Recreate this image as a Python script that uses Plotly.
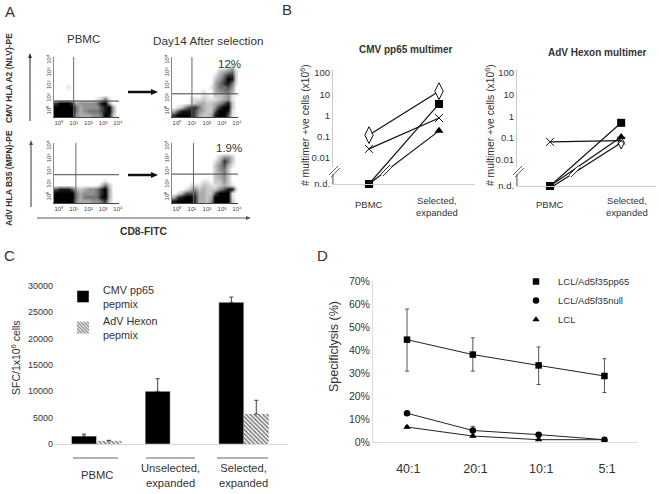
import plotly.graph_objects as go

W, H = 659, 494
FONT = "Liberation Sans"
INK = "#333333"

# ---------- Panel A: estimated density grids (0-9), top row first
FLOW_COLS = 16
flow_cmv_pbmc = ["0000000000000000", "0000000000000000", "0000000000000000", "0000000000000000",
                 "0000000000000000", "0000000000000000", "0000000000000000", "0001000000000000",
                 "0000000000000000", "0000000000000000", "0000000000125100", "7999734444589300",
                 "9999953444468930", "9999953455568930", "9999943334459820"]
flow_cmv_sel = ["0000000000000000", "0000000000000000", "0000000000000130", "0000000000023451",
                "0000000000135771", "0000000000246981", "0000000000357851", "0000000001355640",
                "0000000100345530", "0000000110223410", "0000111211123410", "0000123322346820",
                "0125775322479920", "3688864322699810", "7999863223899610"]
flow_adv_pbmc = ["0000000000000000", "0000000000000000", "0000000000000000", "0000000000000000",
                 "0000000000000000", "0000000000000000", "0000000000000000", "0000000000000000",
                 "0000000000000000", "0000000000001000", "0000000000025200", "6888632344579300",
                 "9999953444579300", "9999953555589300", "9999943334457200"]
flow_adv_sel = ["0000000000000000", "0000000000000000", "0000000000000000", "0000000000024420",
                "0000000000137520", "0000000000246310", "0000000000245200", "0000000000235200",
                "0000000000234200", "0000000110224200", "0000111221123210", "0001342322246881",
                "0136663322699910", "3789973323999910", "8999973324999920"]
flow_ticks = [0, 1, 2, 3, 4]
flow_ticktext = ["10⁰", "10¹", "10²", "10³", "10⁴"]

# ---------- Panel B
b_cats = ["PBMC", "Selected,<br>expanded"]
ND = 10 ** -3.22
b_ticks = [ND, 0.01, 0.1, 1, 10, 100]
b_ticktext = ["n.d.", "0.01", "0.1", "1", "10", "100"]
cmv_diamond = [0.12, 14]
cmv_cross = [0.027, 0.76]
cmv_square = [ND, 3.5]
cmv_triangle = [ND, 0.19]
adv_cross = [0.066, 0.075]
adv_square = [ND, 0.5]
adv_triangle = [ND, 0.11]
adv_diamond = [ND * 0.8, 0.06]

# ---------- Panel C
c_cats = ["PBMC", "Unselected,<br>expanded", "Selected,<br>expanded"]
c_cmv = [1500, 10000, 26900]
c_cmv_err = [380, 2400, 1000]
c_adv = [600, None, 5700]
c_adv_err = [100, None, 2600]
c_ticks = [0, 5000, 10000, 15000, 20000, 25000, 30000]

# ---------- Panel D
d_cats = ["40:1", "20:1", "10:1", "5:1"]
d_pp65 = [0.445, 0.38, 0.333, 0.287]
d_pp65_err_up = [0.133, 0.073, 0.08, 0.075]
d_pp65_err_dn = [0.137, 0.072, 0.083, 0.072]
d_null = [0.125, 0.05, 0.032, 0.01]
d_null_err = [0.006, 0.018, 0.005, 0.005]
d_lcl = [0.065, 0.026, 0.01, 0.01]
d_lcl_err = [0.005, 0.005, 0.003, 0.003]
d_ticks = [0, .1, .2, .3, .4, .5, .6, .7]

def X(p): return p / W
def Y(p): return 1 - p / H

fig = go.Figure()
layout = dict(width=W, height=H, autosize=False, margin=dict(l=0, r=0, t=0, b=0, pad=0),
              paper_bgcolor="white", plot_bgcolor="white", showlegend=True,
              font=dict(family=FONT, color=INK), barmode="overlay")
shapes, annots = [], []
n_ax = [0]

def axes(l, r, t, b, xaxis, yaxis):
    n_ax[0] += 1
    k = n_ax[0]
    sx = "" if k == 1 else str(k)
    base = dict(showgrid=False, zeroline=False, fixedrange=True, automargin=False)
    layout["xaxis" + sx] = dict(base, domain=[X(l), X(r)], anchor="y" + sx, **xaxis)
    layout["yaxis" + sx] = dict(base, domain=[Y(b), Y(t)], anchor="x" + sx, **yaxis)
    return "x" + sx, "y" + sx

def text(x, y, s, size=10, angle=0, anchor="center", bold=False, color=INK):
    annots.append(dict(x=X(x), y=Y(y), xref="paper", yref="paper", text=f"<b>{s}</b>" if bold else s,
                       showarrow=False, font=dict(size=size, color=color, family=FONT), textangle=angle,
                       xanchor=anchor, yanchor="middle"))

def pline(x0, y0, x1, y1, color="#000", width=1):
    shapes.append(dict(type="line", xref="paper", yref="paper", x0=X(x0), y0=Y(y0), x1=X(x1), y1=Y(y1),
                       line=dict(color=color, width=width)))

def arrow(x0, y0, x1, y1, color="#222", width=1, head_len=6, head_half=2.5):
    # straight horizontal or vertical arrow, pixel coordinates: tail to tip
    ux = (x1 > x0) - (x1 < x0)
    uy = (y1 > y0) - (y1 < y0)
    bx, by = x1 - ux * head_len, y1 - uy * head_len
    pline(x0, y0, bx, by, color, width)
    px, py = -uy * head_half, ux * head_half
    path = f"M{X(x1)},{Y(y1)} L{X(bx + px)},{Y(by + py)} L{X(bx - px)},{Y(by - py)} Z"
    shapes.append(dict(type="path", xref="paper", yref="paper", path=path, fillcolor=color, line=dict(width=0)))

# ---------- Panel A
def flow(grid, l, r, t, b, hgate, vgate):
    xr = [-0.33, 4.07]
    yr = [-0.47, 4.24]
    xa, ya = axes(l, r, t, b,
                  dict(range=xr, tickvals=flow_ticks, ticktext=flow_ticktext, tickfont=dict(size=6, color="#444"),
                       showline=True, linecolor="#444", linewidth=1, ticks="", ticklen=0),
                  dict(range=yr, tickvals=flow_ticks, ticktext=flow_ticktext, tickfont=dict(size=6, color="#444"),
                       tickangle=-90, showline=True, linecolor="#888", linewidth=1, ticks="", ticklen=0))
    rows = [[int(c) for c in row] for row in reversed(grid)]
    fig.add_trace(go.Heatmap(z=rows, x0=xr[0] + (xr[1] - xr[0]) / FLOW_COLS / 2, dx=(xr[1] - xr[0]) / FLOW_COLS,
                             y0=yr[0] + (yr[1] - yr[0]) / len(rows) / 2, dy=(yr[1] - yr[0]) / len(rows),
                             zmin=0, zmax=9, zsmooth="best", showscale=False, hoverinfo="skip",
                             colorscale=[[0, "white"], [0.1, "#e4e4e4"], [0.5, "#848484"], [0.8, "#2c2c2c"], [1, "black"]],
                             xaxis=xa, yaxis=ya))
    fig.add_trace(go.Scatter(x=xr, y=[hgate, hgate], mode="lines", line=dict(color="#444", width=1),
                             showlegend=False, hoverinfo="skip", xaxis=xa, yaxis=ya))
    fig.add_trace(go.Scatter(x=[vgate, vgate], y=yr, mode="lines", line=dict(color="#666", width=1),
                             showlegend=False, hoverinfo="skip", xaxis=xa, yaxis=ya))

flow(flow_cmv_pbmc, 54, 119, 57, 117, 0.78, 1.0)
flow(flow_cmv_sel, 172, 238, 57, 117, 1.35, 1.0)
flow(flow_adv_pbmc, 54, 119, 143, 203, 1.75, 1.15)
flow(flow_adv_sel, 172, 238, 143, 203, 1.8, 1.1)

text(10, 11, "A", 15)
text(83, 39, "PBMC", 11.5)
text(208, 41, "Day14 After selection", 11.7)
text(229, 64, "12%", 11.5)
text(229, 148, "1.9%", 11.5)
text(9, 78, "CMV HLA A2 (NLV)-PE", 8.5, -90, bold=True)
text(9, 178, "AdV HLA B35 (MPN)-PE", 8.5, -90, bold=True)
text(143, 231, "CD8-FITC", 10.3, bold=True)
arrow(30, 121, 30, 53, "#222", 1, 5, 1.8)
arrow(31, 207, 31, 140, "#555", 1.2, 5, 2)
arrow(37, 218, 251, 218, "#555", 1, 5, 2)
arrow(128, 92, 158, 92, "#111", 2.5, 7, 3)
arrow(128, 175, 158, 175, "#111", 2.5, 7, 3)

# ---------- Panel B
def multimer(l, r, nd_y, top, x_range, series):
    scale = (nd_y - 73) / 5.22
    top_log = 2 + (73 - top) / scale
    xa, ya = axes(l, r, top, nd_y,
                  dict(range=x_range, tickvals=[], showline=True, linecolor="#d0d0d0", linewidth=1),
                  dict(type="log", range=[-3.22, top_log], tickvals=b_ticks, ticktext=b_ticktext,
                       tickfont=dict(size=9.5, color=INK), showline=True, linecolor="#c8c8c8", linewidth=1,
                       ticks="", ticklen=0))
    xs = [0, 1]
    for vals, sym, size, fill, lw in series:
        fig.add_trace(go.Scatter(x=xs, y=vals, mode="lines+markers", cliponaxis=False, showlegend=False,
                                 line=dict(color="#111", width=1.2),
                                 marker=dict(symbol=sym, size=size, color=fill, line=dict(color="#111", width=lw)),
                                 hoverinfo="skip", xaxis=xa, yaxis=ya))
    return xa, ya

multimer(333, 475, 184, 70, [-0.514, 1.514], [
    (cmv_diamond, "diamond-tall", 12, "white", 1),
    (cmv_cross, "x-thin-open", 8, "#111", 1),
    (cmv_triangle, "triangle-up", 8, "black", 0),
    (cmv_square, "square", 8, "black", 0),
])
multimer(517, 656, 186, 70, [-0.465, 1.49], [
    (adv_diamond, "diamond-tall", 9, "white", 1),
    (adv_cross, "x-thin-open", 8, "#111", 1),
    (adv_square, "square", 8, "black", 0),
    (adv_triangle, "triangle-up", 8, "black", 0),
])

text(287, 10, "B", 15)
text(405, 50, "CMV pp65 multimer", 10, bold=True)
text(597, 53, "AdV Hexon multimer", 10, bold=True)
text(304, 125, "# multimer +ve cells (x10<sup>6</sup>)", 10.3, -90)
text(489, 125, "# multimer +ve cells (x10<sup>6</sup>)", 10.3, -90)
text(369, 204, b_cats[0], 9.5)
text(437, 206, b_cats[1], 9.5)
text(550, 204, b_cats[0], 9.5)
text(627, 206, b_cats[1], 9.5)

for ax_x, ax_nd, (bx0, by0, bx1, by1) in [(333, 184, (381, 174, 390, 165)), (517, 186, (569, 175, 578, 166))]:
    pline(ax_x, ax_nd, ax_x, 174, "#666", 1)
    pline(ax_x, 174, ax_x, 167, "white", 3)
    pline(ax_x - 4, 175, ax_x + 5, 166, "#666", 1)
    pline(ax_x - 2, 177, ax_x + 7, 168, "#666", 1)
    pline(bx0 + 1, by0 + 1, bx1 + 1, by1 + 1, "white", 3)
    pline(bx0, by0, bx1, by1, "#333", 1)
    pline(bx0 + 2, by0 + 2, bx1 + 2, by1 + 2, "#333", 1)

# ---------- Panel C
xa, ya = axes(54, 288, 286, 444,
              dict(range=[-0.577, 2.6], tickvals=[], showline=True, linecolor="#d8d8d8", linewidth=1),
              dict(range=[0, 30000], tickvals=c_ticks, tickformat="d", tickfont=dict(size=9, color=INK),
                   ticks="", ticklen=0, showline=False))
BW = 0.339
cx = list(range(len(c_cats)))
fig.add_trace(go.Bar(x=cx, y=c_cmv, width=BW, offset=-BW, name="CMV pp65<br>pepmix", marker=dict(color="black"),
                     error_y=dict(type="data", symmetric=False, array=c_cmv_err, arrayminus=[0, 0, 0],
                                  color="#444", thickness=1, width=2),
                     xaxis=xa, yaxis=ya, legend="legend", hoverinfo="skip"))
fig.add_trace(go.Bar(x=cx, y=c_adv, width=BW, offset=0, name="AdV Hexon<br>pepmix",
                     marker=dict(color="white", line=dict(width=0),
                                 pattern=dict(shape="\\", fgcolor="black", bgcolor="white", size=3, solidity=0.55)),
                     error_y=dict(type="data", symmetric=False, array=c_adv_err, arrayminus=[0, 0, 0],
                                  color="#444", thickness=1, width=2),
                     xaxis=xa, yaxis=ya, legend="legend", hoverinfo="skip"))
text(9, 255, "C", 15)
text(15, 358, "SFC/1x10<sup>6</sup> cells", 10.5, -90)
for i, (x0, x1) in enumerate([(73, 118), (146, 195), (217, 268)]):
    pline(x0, 458, x1, 458, "#999", 1.5)
    annots.append(dict(x=i, y=Y(475), xref=xa, yref="paper", text=c_cats[i], showarrow=False,
                       font=dict(size=11.2, color=INK, family=FONT), xanchor="center", yanchor="middle"))

# ---------- Panel D
xa, ya = axes(373, 638, 281, 442,
              dict(range=[-0.517, 3.51], tickmode="array", tickvals=[0.02, 1.04, 2.04, 3.04], ticktext=d_cats,
                   tickfont=dict(size=12.5, color=INK), showline=True, linecolor="#dcdcdc", linewidth=1,
                   ticks="outside", tickcolor="rgba(0,0,0,0)", ticklen=15),
              dict(range=[0, 0.7], tickvals=d_ticks, tickformat=".0%", tickfont=dict(size=10.5, color=INK),
                   showline=True, linecolor="#dcdcdc", linewidth=1, ticks="", ticklen=0))
dx = list(range(len(d_cats)))
for vals, up, dn, sym, size, name in [
    (d_pp65, d_pp65_err_up, d_pp65_err_dn, "square", 6.5, "LCL/Ad5f35pp65"),
    (d_null, d_null_err, d_null_err, "circle", 6.5, "LCL/Ad5f35null"),
    (d_lcl, d_lcl_err, d_lcl_err, "triangle-up", 6.5, "LCL"),
]:
    fig.add_trace(go.Scatter(x=dx, y=vals, mode="lines", line=dict(color="#222", width=1), showlegend=False,
                             error_y=dict(type="data", symmetric=False, array=up, arrayminus=dn,
                                          color="#555", thickness=1, width=2),
                             cliponaxis=False, xaxis=xa, yaxis=ya, hoverinfo="skip"))
    fig.add_trace(go.Scatter(x=dx, y=vals, mode="markers", name=name, cliponaxis=False,
                             marker=dict(symbol=sym, size=size, color="black"),
                             xaxis=xa, yaxis=ya, legend="legend2", hoverinfo="skip"))
text(322, 255, "D", 15)
text(334, 347, "Specificlysis (%)", 12.5, -90)

layout["legend"] = dict(x=X(63), y=Y(276), xanchor="left", yanchor="top", bgcolor="rgba(0,0,0,0)",
                        font=dict(size=10.8, color=INK, family=FONT), itemclick=False, itemdoubleclick=False,
                        tracegroupgap=0, traceorder="normal")
layout["legend2"] = dict(x=X(514), y=Y(267), xanchor="left", yanchor="top", bgcolor="rgba(0,0,0,0)",
                         font=dict(size=9.5, color=INK, family=FONT), itemclick=False, itemdoubleclick=False,
                         traceorder="normal", itemwidth=34)
layout["shapes"] = shapes
layout["annotations"] = annots
fig.update_layout(**layout)
fig.write_html("out.html", config=dict(displayModeBar=False), post_script="document.body.style.margin='0';")
